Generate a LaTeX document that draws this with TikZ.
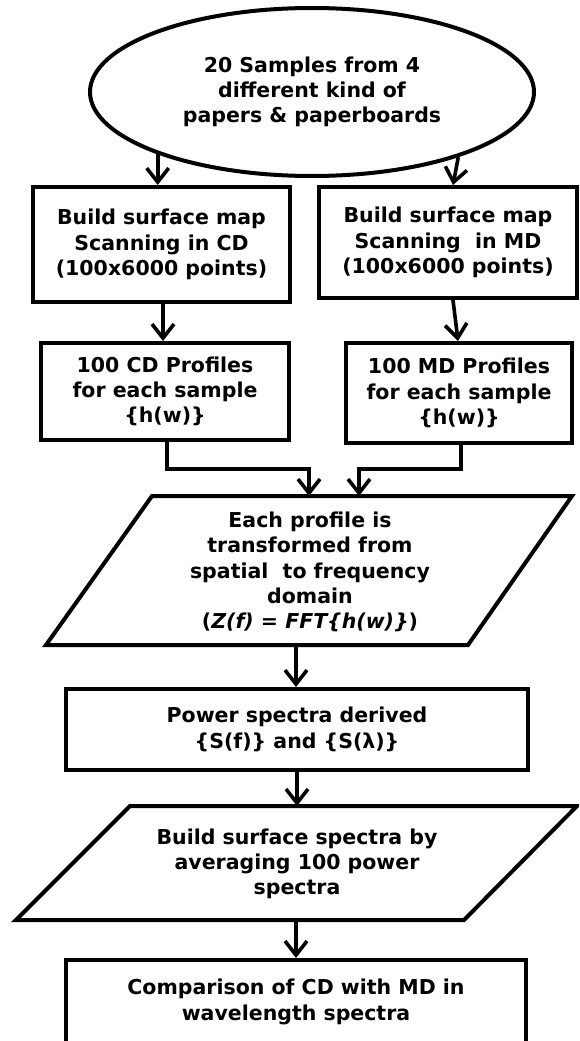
\documentclass[tikz,border=0pt]{standalone}
\usepackage{fontspec}
\setmainfont{DejaVu Sans}
\usetikzlibrary{shapes.geometric,arrows.meta,calc}
\begin{document}
\begin{tikzpicture}[x=1pt,y=-1pt,
  txt/.style={font=\fontsize{20.5}{25.3}\selectfont\bfseries, align=center, inner sep=0pt},
  boxnode/.style={txt, draw, line width=4pt},
  shapeline/.style={line width=4pt, line join=miter},
  arr/.style={line width=3.6pt, -{Straight Barb[length=14pt,width=22pt]}}
]
\clip (0,0) rectangle (579,1041);
\fill[white] (0,0) rectangle (579,1041);

% start ellipse
\node (ell) [txt, ellipse, draw, line width=4pt, minimum width=444pt, minimum height=168pt] at (312,92)
  {20 Samples from 4\\different kind of\\papers \& paperboards};

% scanning boxes
\node (cd1) [boxnode, minimum width=257pt, minimum height=115pt] at (161.5,244.5)
  {Build surface map\\Scanning in CD\\(100x6000 points)};
\node (md1) [boxnode, minimum width=258pt, minimum height=111pt] at (448,242.5)
  {Build surface map\\Scanning\ \ in MD\\(100x6000 points)};

% profile boxes
\node (cd2) [boxnode, minimum width=248pt, minimum height=97pt] at (165,391.5)
  {100 CD Profiles\\for each sample\\\{h(w)\}};
\node (md2) [boxnode, minimum width=226pt, minimum height=100pt] at (459,393)
  {100 MD Profiles\\for each sample\\\{h(w)\}};

% parallelogram 1
\coordinate (p1a) at (152,496);
\coordinate (p1b) at (572,496);
\coordinate (p1c) at (468,645);
\coordinate (p1d) at (46,645);
\draw[shapeline] (p1a) -- (p1b) -- (p1c) -- (p1d) -- cycle;
\node (p1) [txt] at (310,572)
  {Each profile is\\transformed from\\spatial\ \ to frequency\\domain\\(\textit{Z(f) = FFT\{h(w)\}})};
\coordinate (p1in1) at (309,496);
\coordinate (p1in2) at (359,496);
\coordinate (p1out) at (296,645);
\coordinate (j1) at (309,469);
\coordinate (j2) at (359,469);

% power spectra box
\node (pw) [boxnode, minimum width=462pt, minimum height=81pt] at (297,729.5)
  {Power spectra derived\\\{S(f)\} and \{S(λ)\}};

% parallelogram 2
\coordinate (p2a) at (130,806);
\coordinate (p2b) at (577,806);
\coordinate (p2c) at (464,920);
\coordinate (p2d) at (16,920);
\draw[shapeline] (p2a) -- (p2b) -- (p2c) -- (p2d) -- cycle;
\node (p2) [txt] at (297,864)
  {Build surface spectra by\\averaging 100 power\\spectra};
\coordinate (p2in) at (297,806);
\coordinate (p2out) at (296,920);

% final box
\node (fin) [boxnode, minimum width=460pt, minimum height=84pt] at (296,1002)
  {Comparison of CD with MD in\\wavelength spectra};

% connectors
\draw[arr] (ell.202.5) -- (ell.202.5 |- cd1.north);
\draw[arr] (ell.336.3) -- ([xshift=5pt]md1.north);
\draw[arr] ([xshift=1.5pt]cd1.south) -- ([xshift=1.5pt]cd1.south |- cd2.north);
\draw[arr] ([xshift=5pt]md1.south) -- ([xshift=-1pt]md2.north);
\draw[arr] ([xshift=2pt]cd2.south) |- (j1) -- (p1in1);
\draw[arr] ([xshift=2pt]md2.south) |- (j2) -- (p1in2);
\draw[arr] (p1out) -- (p1out |- pw.north);
\draw[arr] (pw.south) -- (p2in);
\draw[arr] (p2out) -- (p2out |- fin.north);
\end{tikzpicture}
\end{document}
